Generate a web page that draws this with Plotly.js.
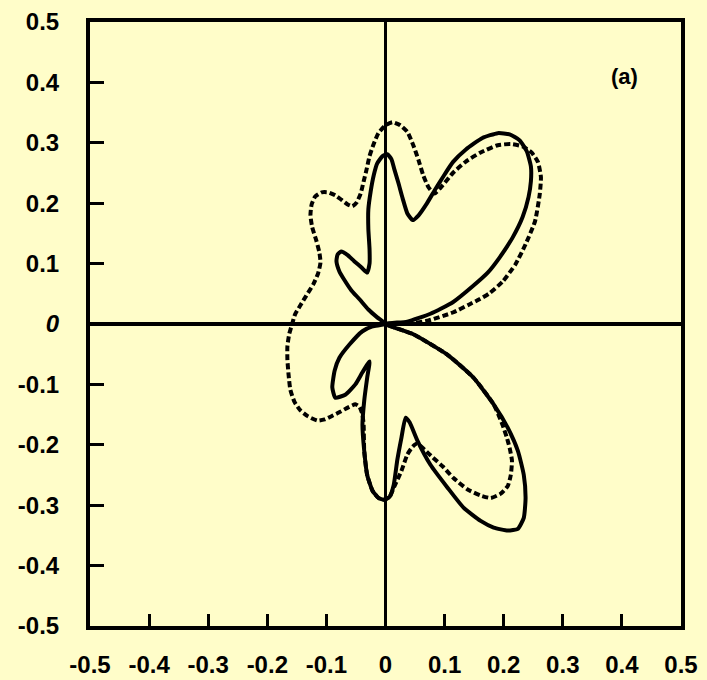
<!DOCTYPE html>
<html>
<head>
<meta charset="utf-8">
<script src="https://cdn.plot.ly/plotly-3.0.1.min.js"></script>
<style>
  html, body { margin: 0; padding: 0; background: #fffdc9; }
  #chart { width: 707px; height: 680px; }
</style>
</head>
<body>
<div id="chart"></div>
<script>
// Solid pattern: closed loop traced through the origin (x, y pairs)
const solidX = [
  0, 0.037, 0.076, 0.114, 0.147, 0.173, 0.193, 0.215, 0.232, 0.242, 0.246, 0.246,
  0.239, 0.227, 0.210, 0.190, 0.164, 0.136, 0.114, 0.097, 0.083, 0.069, 0.056, 0.046,
  0.037, 0.029, 0.022, 0.015, 0.010, 0.003, -0.005, -0.014, -0.020, -0.025, -0.029, -0.029,
  -0.027, -0.027, -0.031, -0.041, -0.053, -0.064, -0.075, -0.081, -0.083, -0.078, -0.069, -0.058,
  -0.044, -0.029, -0.014, 0,
  -0.022, -0.039, -0.061, -0.078, -0.086, -0.090, -0.085, -0.068, -0.051, -0.039, -0.027,
  -0.031, -0.036, -0.039, -0.036, -0.031, -0.022, -0.012, -0.002, 0.007, 0.014, 0.020, 0.027,
  0.034, 0.041, 0.054, 0.076, 0.105, 0.132, 0.161, 0.183, 0.207, 0.224, 0.234, 0.237,
  0.234, 0.224, 0.207, 0.183, 0.149, 0.105, 0.047, 0
];
const solidY = [
  0, 0.004, 0.017, 0.036, 0.062, 0.085, 0.110, 0.143, 0.177, 0.210, 0.236, 0.261,
  0.286, 0.304, 0.314, 0.316, 0.308, 0.289, 0.268, 0.243, 0.221, 0.198, 0.180, 0.172,
  0.183, 0.208, 0.233, 0.256, 0.273, 0.281, 0.278, 0.266, 0.246, 0.220, 0.190, 0.157,
  0.124, 0.100, 0.085, 0.094, 0.104, 0.114, 0.120, 0.115, 0.104, 0.087, 0.072, 0.056,
  0.041, 0.024, 0.011, 0,
  -0.004, -0.012, -0.034, -0.056, -0.077, -0.105, -0.122, -0.117, -0.100, -0.080, -0.062,
  -0.089, -0.127, -0.167, -0.210, -0.250, -0.276, -0.288, -0.291, -0.286, -0.266, -0.225, -0.188,
  -0.155, -0.163, -0.193, -0.233, -0.271, -0.304, -0.326, -0.337, -0.342, -0.339, -0.321, -0.288,
  -0.250, -0.210, -0.172, -0.133, -0.089, -0.051, -0.017, 0
];

// Dashed pattern: closed loop traced through the origin (x, y pairs)
const dashedX = [
  0, 0.037, 0.073, 0.114, 0.141, 0.159, 0.176, 0.198, 0.220, 0.237, 0.253, 0.261,
  0.263, 0.258, 0.247, 0.232, 0.212, 0.190, 0.161, 0.136, 0.114, 0.097, 0.083, 0.073,
  0.064, 0.056, 0.047, 0.037, 0.025, 0.012, 0, -0.012, -0.020, -0.027, -0.032, -0.037,
  -0.042, -0.049, -0.056, -0.064, -0.075, -0.085, -0.097, -0.108, -0.119, -0.125, -0.127, -0.124,
  -0.117, -0.112, -0.110, -0.114, -0.122, -0.134, -0.144, -0.153, -0.158,
  -0.163, -0.166, -0.166, -0.164, -0.161, -0.154, -0.144, -0.131, -0.115, -0.103, -0.090, -0.076,
  -0.063, -0.051, -0.044, -0.039, -0.037, -0.036, -0.031, -0.022, -0.012, -0.002, 0.007, 0.015,
  0.027, 0.037, 0.046, 0.054, 0.066, 0.080, 0.097, 0.115, 0.139, 0.161, 0.178, 0.195,
  0.207, 0.212, 0.214, 0.210, 0.205, 0.198, 0.183, 0.149, 0.105, 0.047, 0
];
const dashedY = [
  0, 0.000, 0.006, 0.019, 0.032, 0.041, 0.051, 0.070, 0.099, 0.132, 0.170, 0.215,
  0.243, 0.268, 0.284, 0.294, 0.298, 0.296, 0.284, 0.269, 0.250, 0.230, 0.216, 0.226,
  0.246, 0.271, 0.296, 0.318, 0.329, 0.334, 0.329, 0.316, 0.298, 0.278, 0.256, 0.236,
  0.216, 0.201, 0.195, 0.198, 0.206, 0.213, 0.218, 0.218, 0.211, 0.198, 0.180, 0.160,
  0.138, 0.119, 0.102, 0.084, 0.066, 0.047, 0.031, 0.016, 0,
  -0.017, -0.037, -0.059, -0.084, -0.109, -0.129, -0.143, -0.153, -0.160, -0.158, -0.152, -0.145,
  -0.138, -0.133, -0.137, -0.150, -0.167, -0.210, -0.250, -0.276, -0.288, -0.291, -0.286, -0.269,
  -0.243, -0.216, -0.203, -0.198, -0.208, -0.221, -0.236, -0.255, -0.274, -0.284, -0.288, -0.281,
  -0.268, -0.250, -0.226, -0.205, -0.187, -0.167, -0.133, -0.089, -0.051, -0.017, 0
];

// Axis ticks and their labels
const tickVals = [-0.5, -0.4, -0.3, -0.2, -0.1, 0, 0.1, 0.2, 0.3, 0.4, 0.5];
const xTickText = ['-0.5', '-0.4', '-0.3', '-0.2', '-0.1', '0', '0.1', '0.2', '0.3', '0.4', '0.5'];
const yTickText = ['-0.5', '-0.4', '-0.3', '-0.2', '-0.1', '<i>0</i>', '0.1', '0.2', '0.3', '0.4', '0.5'];
const panelLabel = '(a)';

const bg = '#fffdc9';
const tickFont = { family: 'Liberation Sans, Arial, sans-serif', size: 24, color: '#000', weight: 'bold' };

const traces = [
  {
    x: dashedX, y: dashedY, type: 'scatter', mode: 'lines',
    line: { color: '#000', width: 4, dash: '6px,3px', shape: 'spline', smoothing: 0.5 },
    hoverinfo: 'skip', showlegend: false
  },
  {
    x: solidX, y: solidY, type: 'scatter', mode: 'lines',
    line: { color: '#000', width: 4, shape: 'spline', smoothing: 0.5 },
    hoverinfo: 'skip', showlegend: false
  }
];

const axisCommon = {
  range: [-0.5, 0.5],
  tickmode: 'array',
  tickvals: tickVals,
  ticks: 'inside',
  tickwidth: 3,
  tickcolor: '#000',
  showline: true,
  linecolor: '#000',
  linewidth: 4,
  mirror: true,
  showgrid: false,
  zeroline: true,
  zerolinecolor: '#000',
  tickfont: tickFont,
  fixedrange: true
};

const layout = {
  width: 707,
  height: 680,
  margin: { l: 90, r: 26, t: 22, b: 54 },
  paper_bgcolor: bg,
  plot_bgcolor: bg,
  showlegend: false,
  xaxis: Object.assign({}, axisCommon, {
    ticktext: xTickText, ticklen: 12, zerolinewidth: 2.5, ticklabelstandoff: 14
  }),
  yaxis: Object.assign({}, axisCommon, {
    ticktext: yTickText, ticklen: 14, zerolinewidth: 3.5, ticklabelstandoff: 22
  }),
  annotations: [{
    x: 0.405, y: 0.41, xref: 'x', yref: 'y', text: panelLabel, showarrow: false,
    font: { family: 'Liberation Sans, Arial, sans-serif', size: 22, color: '#000', weight: 'bold' }
  }]
};

Plotly.newPlot('chart', traces, layout, { displayModeBar: false, staticPlot: true });
</script>
</body>
</html>
